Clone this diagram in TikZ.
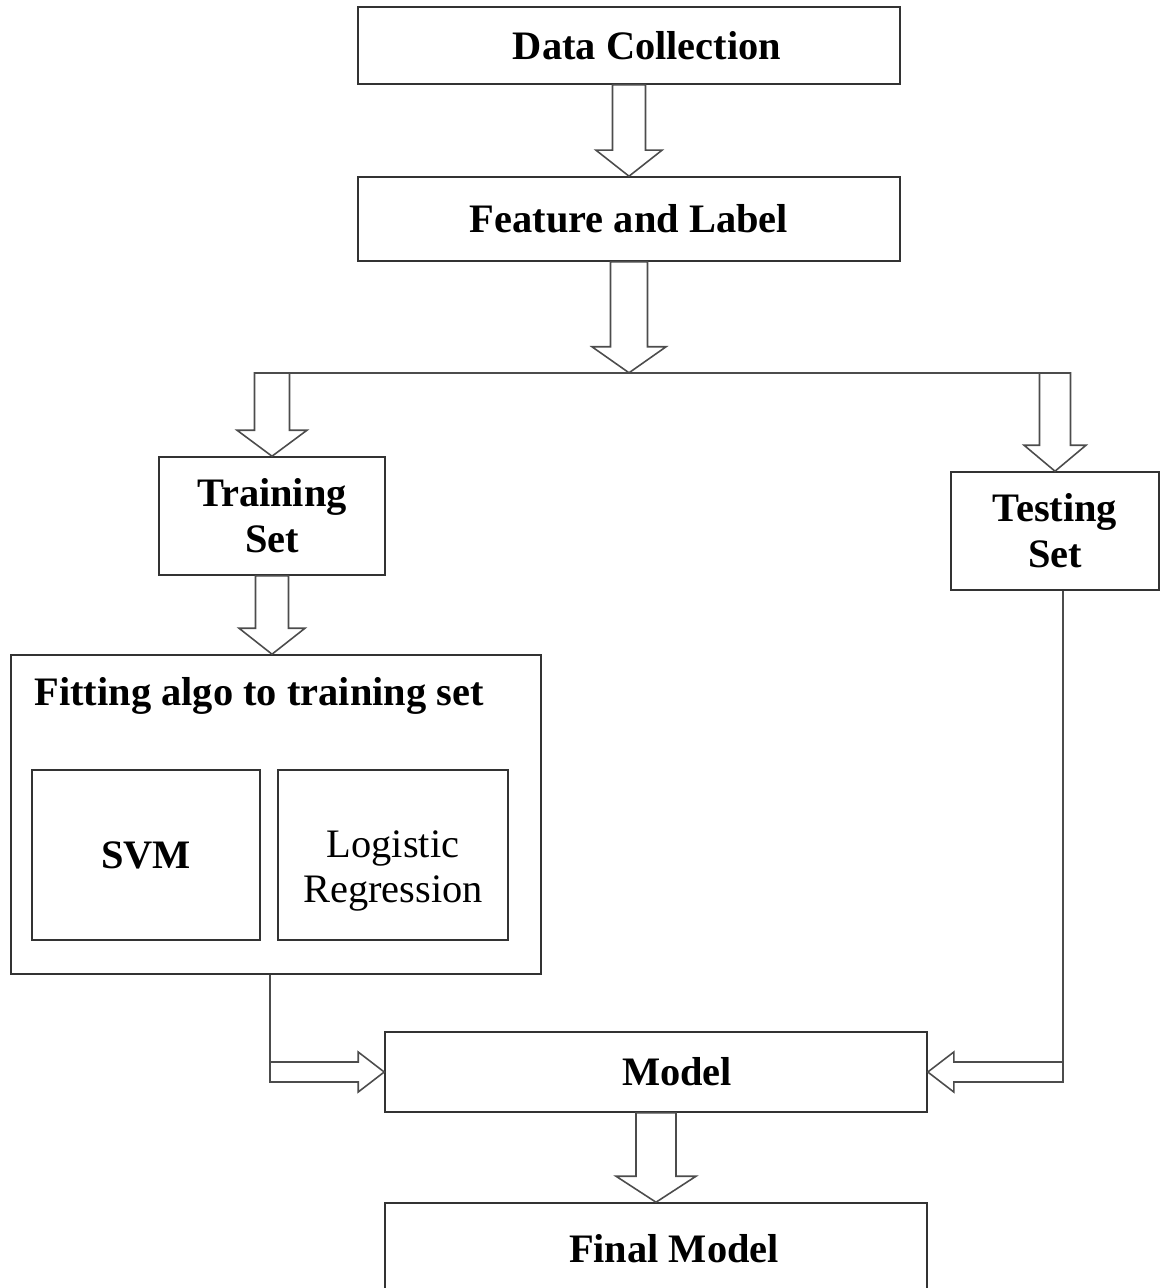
\documentclass[tikz,border=0pt]{standalone}
\usepackage{fontspec}
\setmainfont{Liberation Serif}
\usetikzlibrary{calc}

\tikzset{
  box/.style={draw=black!80, line width=0.9pt, rectangle, align=center,
    font=\fontsize{23}{26}\selectfont\bfseries},
  plainbox/.style={box, font=\fontsize{23}{26}\selectfont},
  blockline/.style={draw=black!70, line width=0.9pt, line join=miter},
}
\def\headlen{0.52cm}
% hollow block arrow: [half shaft width]{from}{tip}
\newcommand{\blockarrow}[3][0.34cm]{%
  \draw[blockline] ($(#2)!#1!90:(#3)$) -- ($(#3)!\headlen!(#2)!#1!90:(#3)$)
    -- ($(#3)!\headlen!(#2)!2*#1!90:(#3)$) -- (#3)
    -- ($(#3)!\headlen!(#2)!2*#1!-90:(#3)$) -- ($(#3)!\headlen!(#2)!#1!-90:(#3)$)
    -- ($(#2)!#1!-90:(#3)$) -- cycle;}

\begin{document}
\begin{tikzpicture}
	\clip (0,0) rectangle (23.22,-25.76);

	% Pipeline boxes
	\node[box, minimum width=10.84cm, minimum height=1.54cm] (data) at (12.58,-0.91) {\hspace*{0.72cm}Data Collection};
	\node[box, minimum width=10.84cm, minimum height=1.68cm] (feat) at (12.58,-4.38) {Feature and Label};
	\node[box, minimum width=4.52cm, minimum height=2.36cm] (train) at (5.44,-10.32) {Training\\Set};
	\node[box, minimum width=4.16cm, minimum height=2.36cm] (test) at (21.10,-10.62) {Testing\\Set};

	% Fitting block
	\node[box, minimum width=10.6cm, minimum height=6.38cm] (fit) at (5.52,-16.29) {};
	\node[anchor=north west, inner sep=0pt, font=\fontsize{23}{26}\selectfont\bfseries] (fittitle)
		at ([xshift=0.48cm, yshift=-0.46cm]fit.north west) {Fitting algo to training set};
	\node[box, minimum width=4.56cm, minimum height=3.4cm] (svm) at (2.92,-17.1) {SVM};
	\node[plainbox, minimum width=4.6cm, minimum height=3.4cm,
		label={[font=\fontsize{23}{26}\selectfont, align=center, yshift=-0.32cm]center:Logistic\\Regression}] (logit) at (7.86,-17.1) {};

	% Model boxes
	\node[box, minimum width=10.84cm, minimum height=1.6cm] (model) at (13.12,-21.44) {\hspace*{0.84cm}Model};
	\node[box, minimum width=10.84cm, minimum height=1.84cm] (final) at (13.12,-24.98) {\hspace*{0.72cm}Final Model};

	% Arrows
	\blockarrow[0.33cm]{data.south}{feat.north}

	\coordinate (split) at ($(feat.south)+(0,-2.22)$);
	\coordinate (splitL) at (train.north |- split);
	\coordinate (splitR) at (test.north |- split);
	\blockarrow[0.37cm]{feat.south}{split}
	\draw[blockline] ($(splitL)+(-0.35,0)$) -- ($(splitR)+(0.32,0)$);
	\blockarrow[0.35cm]{splitL}{train.north}
	\blockarrow[0.31cm]{splitR}{test.north}

	\blockarrow[0.33cm]{train.south}{train.south |- fit.north}

	\coordinate (fitbot) at ([xshift=-0.12cm]fit.south);
	\coordinate (fitcorner) at (fitbot |- model.west);
	\draw[blockline] (fitbot) -- (fitcorner);
	\blockarrow[0.2cm]{fitcorner}{model.west}

	\coordinate (testbot) at ([xshift=0.16cm]test.south);
	\coordinate (testcorner) at (testbot |- model.east);
	\draw[blockline] (testbot) -- (testcorner);
	\blockarrow[0.2cm]{testcorner}{model.east}

	\blockarrow[0.4cm]{model.south}{final.north}
\end{tikzpicture}
\end{document}
